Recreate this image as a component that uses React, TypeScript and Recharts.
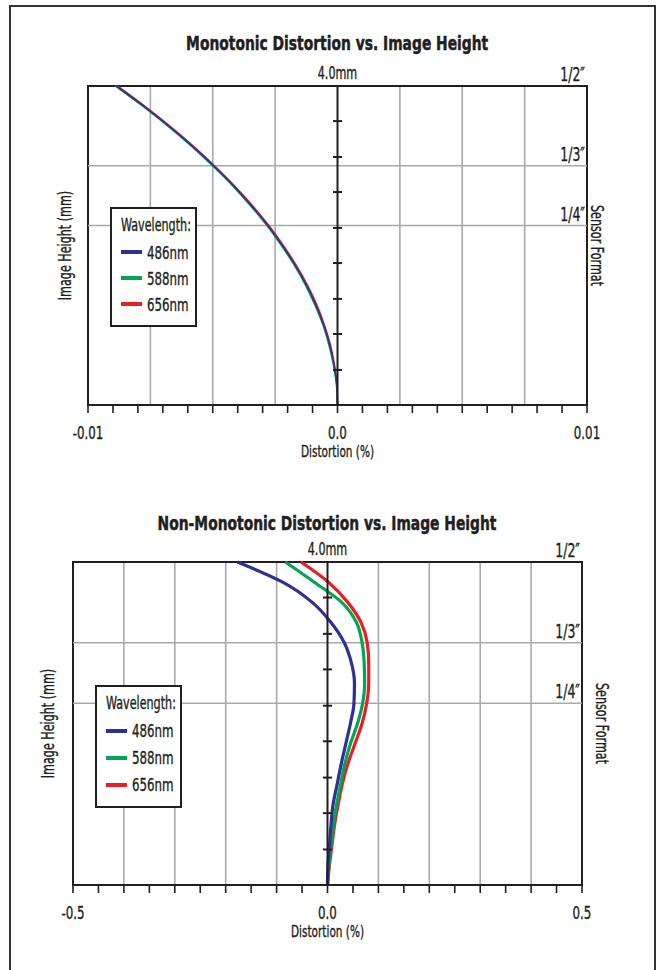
import {
  ComposedChart,
  Label,
  Legend,
  Line,
  ReferenceArea,
  ReferenceLine,
  XAxis,
  YAxis
} from "recharts";

const FONT = '"DejaVu Sans Condensed", "Liberation Sans Narrow", sans-serif';
const SQUEEZE = 0.73;
const INK = "#231f20";
const GRID = "#a7a9ac";

// image height (mm), shared by both plots
const imageHeights = [0, 0.25, 0.5, 0.75, 1, 1.25, 1.5, 1.75, 2, 2.25, 2.5, 2.75, 3, 3.25, 3.5, 3.75, 4];

const wavelengths = ["486nm", "588nm", "656nm"];
const wavelengthColors = ["#2e3192", "#00a651", "#ed1c24"];

// monotonic distortion (%)
const mono486 = [0, -0.00003, -0.00014, -0.00031, -0.00055, -0.00086, -0.00124, -0.00169, -0.00221, -0.00279, -0.00345, -0.00417, -0.00497, -0.00583, -0.00677, -0.00778, -0.00886];
const mono588 = [0, -0.00004, -0.00016, -0.00034, -0.00058, -0.0009, -0.00128, -0.00173, -0.00225, -0.00283, -0.00349, -0.00421, -0.00501, -0.00587, -0.00681, -0.00782, -0.0089];
const mono656 = [0, -0.00002, -0.00012, -0.00028, -0.00052, -0.00082, -0.0012, -0.00165, -0.00217, -0.00275, -0.00341, -0.00413, -0.00493, -0.00579, -0.00673, -0.00774, -0.00882];

// non-monotonic distortion (%)
const wavy486 = [0, 0.001, 0.004, 0.007, 0.011, 0.019, 0.027, 0.036, 0.045, 0.052, 0.053, 0.047, 0.033, 0.007, -0.03, -0.088, -0.177];
const wavy588 = [0, 0.003, 0.007, 0.012, 0.018, 0.026, 0.034, 0.045, 0.059, 0.069, 0.073, 0.072, 0.068, 0.057, 0.028, -0.026, -0.083];
const wavy656 = [0, 0.004, 0.009, 0.014, 0.021, 0.029, 0.04, 0.054, 0.068, 0.077, 0.081, 0.081, 0.078, 0.066, 0.04, 0.002, -0.052];

const sensorFormats = ["1/2″", "1/3″", "1/4″"];
const sensorHeights = [4, 3, 2.25];
const heightTickMarks = [0.44, 0.89, 1.33, 1.78, 2.22, 2.67, 3.11, 3.56];

const monoTicks = [-0.01, -0.009, -0.008, -0.007, -0.006, -0.005, -0.004, -0.003, -0.002, -0.001, 0, 0.001, 0.002, 0.003, 0.004, 0.005, 0.006, 0.007, 0.008, 0.009, 0.01];
const monoGrid = [-0.0075, -0.005, -0.0025, 0.0025, 0.005, 0.0075];
const monoLabelValues = [-0.01, 0, 0.01];
const monoLabelText = ["-0.01", "0.0", "0.01"];

const wavyTicks = [-0.5, -0.45, -0.4, -0.35, -0.3, -0.25, -0.2, -0.15, -0.1, -0.05, 0, 0.05, 0.1, 0.15, 0.2, 0.25, 0.3, 0.35, 0.4, 0.45, 0.5];
const wavyGrid = [-0.4, -0.3, -0.2, -0.1, 0.1, 0.2, 0.3, 0.4];
const wavyLabelValues = [-0.5, 0, 0.5];
const wavyLabelText = ["-0.5", "0.0", "0.5"];

type PanelProps = {
  title: string;
  top: number;
  domain: [number, number];
  ticks: number[];
  grid: number[];
  labelValues: number[];
  labelText: string[];
  series: number[][];
  lineWidth: number;
  tickHalf: number;
  margin: { top: number; right: number; bottom: number; left: number };
  leftWidth: number;
  rightWidth: number;
  legendLeft: number;
  legendTop: number;
  rowHeight: number;
};

// condensed look: the installed fonts are wider than the original, so squeeze horizontally
function NarrowText({
  x,
  y,
  size,
  anchor = "middle",
  angle = 0,
  dy,
  children
}: {
  x: number;
  y: number;
  size: number;
  anchor?: string;
  angle?: number;
  dy?: string;
  children: any;
}) {
  return (
    <text
      transform={`translate(${x},${y}) rotate(${angle}) scale(${SQUEEZE},1)`}
      textAnchor={anchor}
      dy={dy}
      fontSize={size}
      fontFamily={FONT}
      fill={INK}
      stroke={INK}
      strokeWidth={0.35}
    >
      {children}
    </text>
  );
}

function SensorTag(props: any) {
  const vb = props.viewBox || {};
  return (
    <NarrowText x={vb.x + vb.width - 2} y={vb.y - 5} size={19} anchor="end">
      {props.text}
    </NarrowText>
  );
}

const squeezeSpan = {
  display: "inline-block",
  transform: `scaleX(${SQUEEZE})`,
  transformOrigin: "left center",
  whiteSpace: "nowrap" as const,
  WebkitTextStroke: `0.35px ${INK}`
};

function WavelengthKey({ rowHeight }: { rowHeight: number }) {
  return (
    <div
      style={{
        boxSizing: "border-box",
        width: 87,
        border: `2px solid ${INK}`,
        background: "#fff",
        padding: "5px 0 8px 9px",
        fontFamily: FONT,
        color: INK
      }}
    >
      <div style={{ fontSize: 17, lineHeight: "22px", marginBottom: 3 }}>
        <span style={squeezeSpan}>Wavelength:</span>
      </div>
      {wavelengths.map((w, i) => (
        <div key={w} style={{ display: "flex", alignItems: "center", height: rowHeight }}>
          <i
            style={{
              display: "inline-block",
              flexShrink: 0,
              width: 21,
              height: 4,
              background: wavelengthColors[i],
              marginRight: 5
            }}
          />
          <span style={{ ...squeezeSpan, fontSize: 18 }}>{w}</span>
        </div>
      ))}
    </div>
  );
}

function DistortionPanel(p: PanelProps) {
  const data = imageHeights.map((h, i) => ({
    h,
    s486: p.series[0][i],
    s588: p.series[1][i],
    s656: p.series[2][i]
  }));
  const plotLeft = p.margin.left + p.leftWidth;
  const plotWidth = 660 - plotLeft - p.margin.right - p.rightWidth;

  const renderTick = (props: any) => {
    const idx = p.labelValues.findIndex((v) => Math.abs(v - props.payload.value) < 1e-9);
    if (idx < 0) return <g />;
    return (
      <NarrowText x={props.x} y={props.y + 24} size={18}>
        {p.labelText[idx]}
      </NarrowText>
    );
  };

  return (
    <div style={{ position: "absolute", left: 0, top: p.top, width: 660, height: 480 }}>
      <div
        style={{
          position: "absolute",
          left: plotLeft,
          width: plotWidth,
          top: 31,
          textAlign: "center",
          fontFamily: FONT,
          fontWeight: 700,
          fontSize: 20,
          lineHeight: "24px",
          color: INK
        }}
      >
        <span
          style={{
            ...squeezeSpan,
            transform: "scaleX(0.77)",
            transformOrigin: "center center",
            WebkitTextStroke: `0.5px ${INK}`
          }}
        >
          {p.title}
        </span>
      </div>
      <ComposedChart layout="vertical" width={660} height={480} data={data} margin={p.margin}>
        <XAxis
          type="number"
          domain={p.domain}
          ticks={p.ticks}
          interval={0}
          allowDataOverflow
          height={52}
          tickSize={8}
          tickLine={{ stroke: INK, strokeWidth: 1.6 }}
          axisLine={{ stroke: INK, strokeWidth: 2 }}
          tick={renderTick}
        >
          <Label
            content={(lp: any) => (
              <NarrowText x={lp.viewBox.x + lp.viewBox.width / 2} y={lp.viewBox.y + 52} size={16}>
                Distortion (%)
              </NarrowText>
            )}
          />
        </XAxis>
        <YAxis
          type="number"
          dataKey="h"
          domain={[0, 4]}
          reversed
          width={p.leftWidth}
          tick={false}
          tickLine={false}
          axisLine={false}
        >
          <Label
            content={(lp: any) => (
              <NarrowText
                x={lp.viewBox.x + lp.viewBox.width / 2}
                y={lp.viewBox.y + lp.viewBox.height / 2}
                size={17}
                angle={-90}
                dy="0.35em"
              >
                Image Height (mm)
              </NarrowText>
            )}
          />
        </YAxis>
        <YAxis
          yAxisId="fmt"
          orientation="right"
          type="number"
          dataKey="h"
          domain={[0, 4]}
          reversed
          width={p.rightWidth}
          tick={false}
          tickLine={false}
          axisLine={false}
        >
          <Label
            content={(lp: any) => (
              <NarrowText
                x={lp.viewBox.x + lp.viewBox.width / 2}
                y={lp.viewBox.y + lp.viewBox.height / 2}
                size={17}
                angle={90}
                dy="0.35em"
              >
                Sensor Format
              </NarrowText>
            )}
          />
        </YAxis>
        <Legend
          layout="horizontal"
          verticalAlign="middle"
          align="center"
          wrapperStyle={{ left: p.legendLeft, top: p.legendTop, width: "auto" }}
          content={() => <WavelengthKey rowHeight={p.rowHeight} />}
        />
        {p.grid.map((g) => (
          <ReferenceLine key={`g${g}`} x={g} stroke={GRID} strokeWidth={1.6} />
        ))}
        {sensorHeights.map((h, i) => (
          <ReferenceLine
            key={`s${h}`}
            y={h}
            stroke={i === 0 ? INK : GRID}
            strokeWidth={i === 0 ? 2 : 1.6}
            label={<SensorTag text={sensorFormats[i]} />}
          />
        ))}
        <ReferenceArea x1={p.domain[0]} x2={p.domain[1]} y1={0} y2={4} fill="none" stroke={INK} strokeWidth={2} />
        <Line dataKey="s656" name={wavelengths[2]} type="monotone" stroke={wavelengthColors[2]} strokeWidth={p.lineWidth} dot={false} isAnimationActive={false} />
        <Line dataKey="s588" name={wavelengths[1]} type="monotone" stroke={wavelengthColors[1]} strokeWidth={p.lineWidth} dot={false} isAnimationActive={false} />
        <Line dataKey="s486" name={wavelengths[0]} type="monotone" stroke={wavelengthColors[0]} strokeWidth={p.lineWidth} dot={false} isAnimationActive={false} />
        <ReferenceLine x={0} stroke={INK} strokeWidth={2}>
          <Label
            content={(lp: any) => (
              <NarrowText x={lp.viewBox.x} y={lp.viewBox.y - 7} size={17}>
                4.0mm
              </NarrowText>
            )}
          />
        </ReferenceLine>
        {heightTickMarks.map((t) => (
          <ReferenceLine
            key={`t${t}`}
            segment={[
              { x: -p.tickHalf, y: t },
              { x: p.tickHalf, y: t }
            ]}
            stroke={INK}
            strokeWidth={2}
          />
        ))}
      </ComposedChart>
    </div>
  );
}

export default function App() {
  return (
    <div style={{ position: "absolute", left: 0, top: 0, width: 660, height: 970, background: "#fff", overflow: "hidden" }}>
      <div
        style={{
          position: "absolute",
          left: 9,
          top: 5,
          width: 643,
          height: 1000,
          borderTop: "2px solid #333",
          borderLeft: "2px solid #333",
          borderRight: "2px solid #333"
        }}
      />
      <DistortionPanel
        title="Monotonic Distortion vs. Image Height"
        top={0}
        domain={[-0.01, 0.01]}
        ticks={monoTicks}
        grid={monoGrid}
        labelValues={monoLabelValues}
        labelText={monoLabelText}
        series={[mono486, mono588, mono656]}
        lineWidth={1.6}
        tickHalf={0.00018}
        margin={{ top: 86, right: 53, bottom: 23, left: 42 }}
        leftWidth={46}
        rightWidth={20}
        legendLeft={110}
        legendTop={207}
        rowHeight={26}
      />
      <DistortionPanel
        title="Non-Monotonic Distortion vs. Image Height"
        top={480}
        domain={[-0.5, 0.5]}
        ticks={wavyTicks}
        grid={wavyGrid}
        labelValues={wavyLabelValues}
        labelText={wavyLabelText}
        series={[wavy486, wavy588, wavy656]}
        lineWidth={3.2}
        tickHalf={0.009}
        margin={{ top: 82, right: 38, bottom: 23, left: 23 }}
        leftWidth={50}
        rightWidth={40}
        legendLeft={95}
        legendTop={205}
        rowHeight={27}
      />
    </div>
  );
}
